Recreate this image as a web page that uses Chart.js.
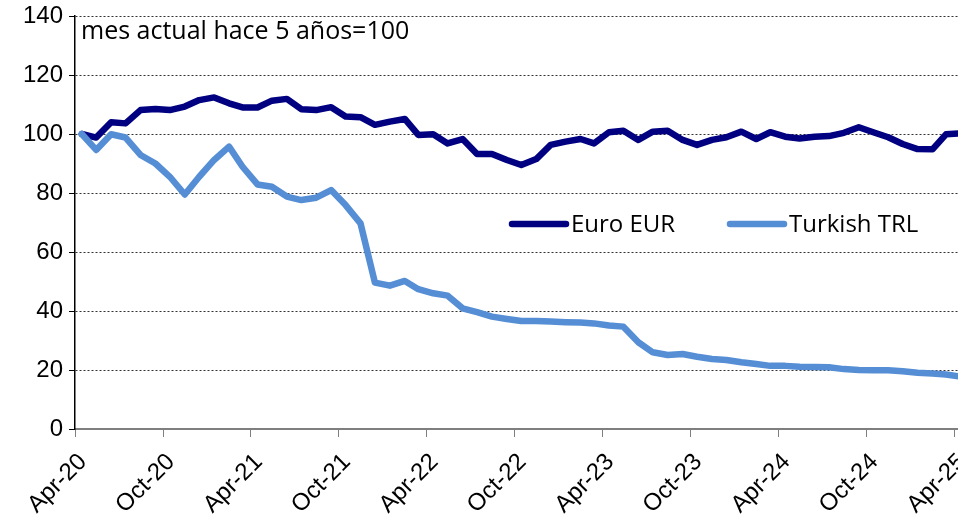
<!DOCTYPE html>
<html>
<head>
<meta charset="utf-8">
<script src="https://cdn.jsdelivr.net/npm/chart.js@4.4.1/dist/chart.umd.min.js"></script>
<style>
  html, body { margin: 0; padding: 0; background: #ffffff; }
  #wrap { width: 958px; height: 523px; }
</style>
</head>
<body>
<div id="wrap"><canvas id="c" width="958" height="523"></canvas></div>
<script>
// ---- Data ----
const startYear = 2020;
const startMonth = 3; // April (0-based)
const monthCount = 61; // Apr-20 .. Apr-25

const euroEUR = [100, 98.8, 104, 103.6, 108.1, 108.5, 108.1, 109.3, 111.5, 112.4, 110.4, 109, 109, 111.3, 111.9, 108.4, 108.1, 109.1,
  105.9, 105.7, 103.1, 104.2, 105.1, 99.7, 99.9, 96.8, 98.3, 93.2, 93.2, 91.2, 89.5, 91.5, 96.3, 97.4, 98.3,
  96.8, 100.6, 101.1, 98, 100.8, 101.1, 98, 96.3, 98, 98.9, 100.8, 98.3, 100.6, 99.1, 98.5, 99.1, 99.3, 100.4, 102.3, 100.6, 98.9, 96.6, 94.9, 94.8, 99.9, 100.2];

const turkishTRL = [100, 94.6, 99.9, 98.8, 92.9, 90.0, 85.5, 79.5, 85.5, 91.2, 95.7, 88.9, 82.9, 82.1, 78.8, 77.6, 78.4, 81.0,
  75.9, 69.7, 49.6, 48.6, 50.2, 47.4, 46.0, 45.2, 40.9, 39.6, 38.1, 37.3, 36.6, 36.6, 36.4, 36.2, 36.1, 35.8, 35.1, 34.7,
  29.4, 26.0, 25.1, 25.4, 24.5, 23.7, 23.4, 22.6, 22.0, 21.4, 21.4, 21.1, 21.0, 20.9, 20.3, 20.0, 19.9, 19.9, 19.6, 19.1, 18.8, 18.5, 17.7];

const seriesNames = ["Euro EUR", "Turkish TRL"];
const tickLabels = ["Apr-20", "Oct-20", "Apr-21", "Oct-21", "Apr-22", "Oct-22", "Apr-23", "Oct-23", "Apr-24", "Oct-24", "Apr-25"];
const yTicks = [0, 20, 40, 60, 80, 100, 120, 140];
const annotationText = "mes actual hace 5 años=100";

// ---- Date helpers: x in days since 1 Apr 2020; monthly observations mid-month ----
const DAY = 86400000;
const origin = Date.UTC(startYear, startMonth, 1);
const obsDay = 15;
const dayOf = (y, m, d) => (Date.UTC(y, m, d) - origin) / DAY;
const xDays = Array.from({length: monthCount}, (_, i) => dayOf(startYear, startMonth + i, obsDay));
const tickDays = tickLabels.map((_, i) => dayOf(startYear, startMonth + 6 * i, 1));

const toPoints = arr => arr.map((v, i) => ({x: xDays[i], y: v}));

const COLORS = { euro: '#000080', trl: '#558ED5' };

const customText = {
  id: 'customText',
  afterDatasetsDraw(chart) {
    const ctx = chart.ctx;
    const ca = chart.chartArea;
    ctx.save();
    // annotation
    ctx.fillStyle = '#000';
    ctx.font = '25px "Open Sans"';
    ctx.textAlign = 'left';
    ctx.textBaseline = 'alphabetic';
    ctx.fillText(annotationText, ca.left + 6, ca.top + 23);
    // legend
    ctx.font = '24px "Open Sans"';
    const ly = 224;
    const items = [
      {name: seriesNames[0], color: COLORS.euro, x0: 512},
      {name: seriesNames[1], color: COLORS.trl, x0: 730}
    ];
    items.forEach(it => {
      ctx.strokeStyle = it.color;
      ctx.lineWidth = 6.5;
      ctx.lineCap = 'round';
      ctx.beginPath();
      ctx.moveTo(it.x0, ly);
      ctx.lineTo(it.x0 + 54, ly);
      ctx.stroke();
      ctx.fillStyle = '#000';
      ctx.textBaseline = 'middle';
      ctx.fillText(it.name, it.x0 + 59, ly + 1);
    });
    ctx.restore();
  }
};

new Chart(document.getElementById('c'), {
  type: 'line',
  data: {
    datasets: [
      {
        label: seriesNames[0],
        data: toPoints(euroEUR),
        borderColor: COLORS.euro,
        backgroundColor: COLORS.euro,
        borderWidth: 6.5,
        pointRadius: 0,
        tension: 0,
        borderJoinStyle: 'round',
        borderCapStyle: 'round',
        order: 1
      },
      {
        label: seriesNames[1],
        data: toPoints(turkishTRL),
        borderColor: COLORS.trl,
        backgroundColor: COLORS.trl,
        borderWidth: 6.5,
        pointRadius: 0,
        tension: 0,
        borderJoinStyle: 'round',
        borderCapStyle: 'round',
        order: 0
      }
    ]
  },
  options: {
    responsive: false,
    devicePixelRatio: 1,
    animation: false,
    layout: { padding: { top: 16, right: 0, left: 0, bottom: 0 } },
    plugins: {
      legend: { display: false },
      tooltip: { enabled: false },
      title: { display: false }
    },
    scales: {
      x: {
        type: 'linear',
        min: 0,
        max: tickDays[tickDays.length - 1] + 8,
        afterBuildTicks(scale) { scale.ticks = tickDays.map(v => ({value: v})); },
        afterFit(scale) { scale.height = 94; scale.paddingLeft = 0; scale.paddingRight = 0; },
        grid: { display: true, drawOnChartArea: false, drawTicks: true, tickLength: 8, tickColor: '#7f7f7f', tickWidth: 1 },
        border: { display: true, color: '#7f7f7f', width: 2 },
        ticks: {
          autoSkip: false,
          minRotation: 45,
          maxRotation: 45,
          padding: 11,
          labelOffset: 8,
          color: '#000',
          font: { family: '"Liberation Sans", Arial, sans-serif', size: 24 },
          callback(value, index) { return tickLabels[index]; }
        }
      },
      y: {
        min: 0,
        max: 140,
        afterBuildTicks(scale) { scale.ticks = yTicks.map(v => ({value: v})); },
        afterFit(scale) { scale.width = 75; scale.paddingTop = 0; scale.paddingBottom = 0; },
        grid: { display: true, color: '#333', lineWidth: 1, drawTicks: true, tickLength: 6, tickColor: '#000', tickWidth: 1, tickBorderDash: [] },
        border: { display: true, color: '#000', width: 1.5, dash: [2, 2] },
        ticks: {
          padding: 6,
          color: '#000',
          font: { family: '"Liberation Sans", Arial, sans-serif', size: 24 },
          callback(value) { return String(value); }
        }
      }
    }
  },
  plugins: [customText]
});
</script>
</body>
</html>
